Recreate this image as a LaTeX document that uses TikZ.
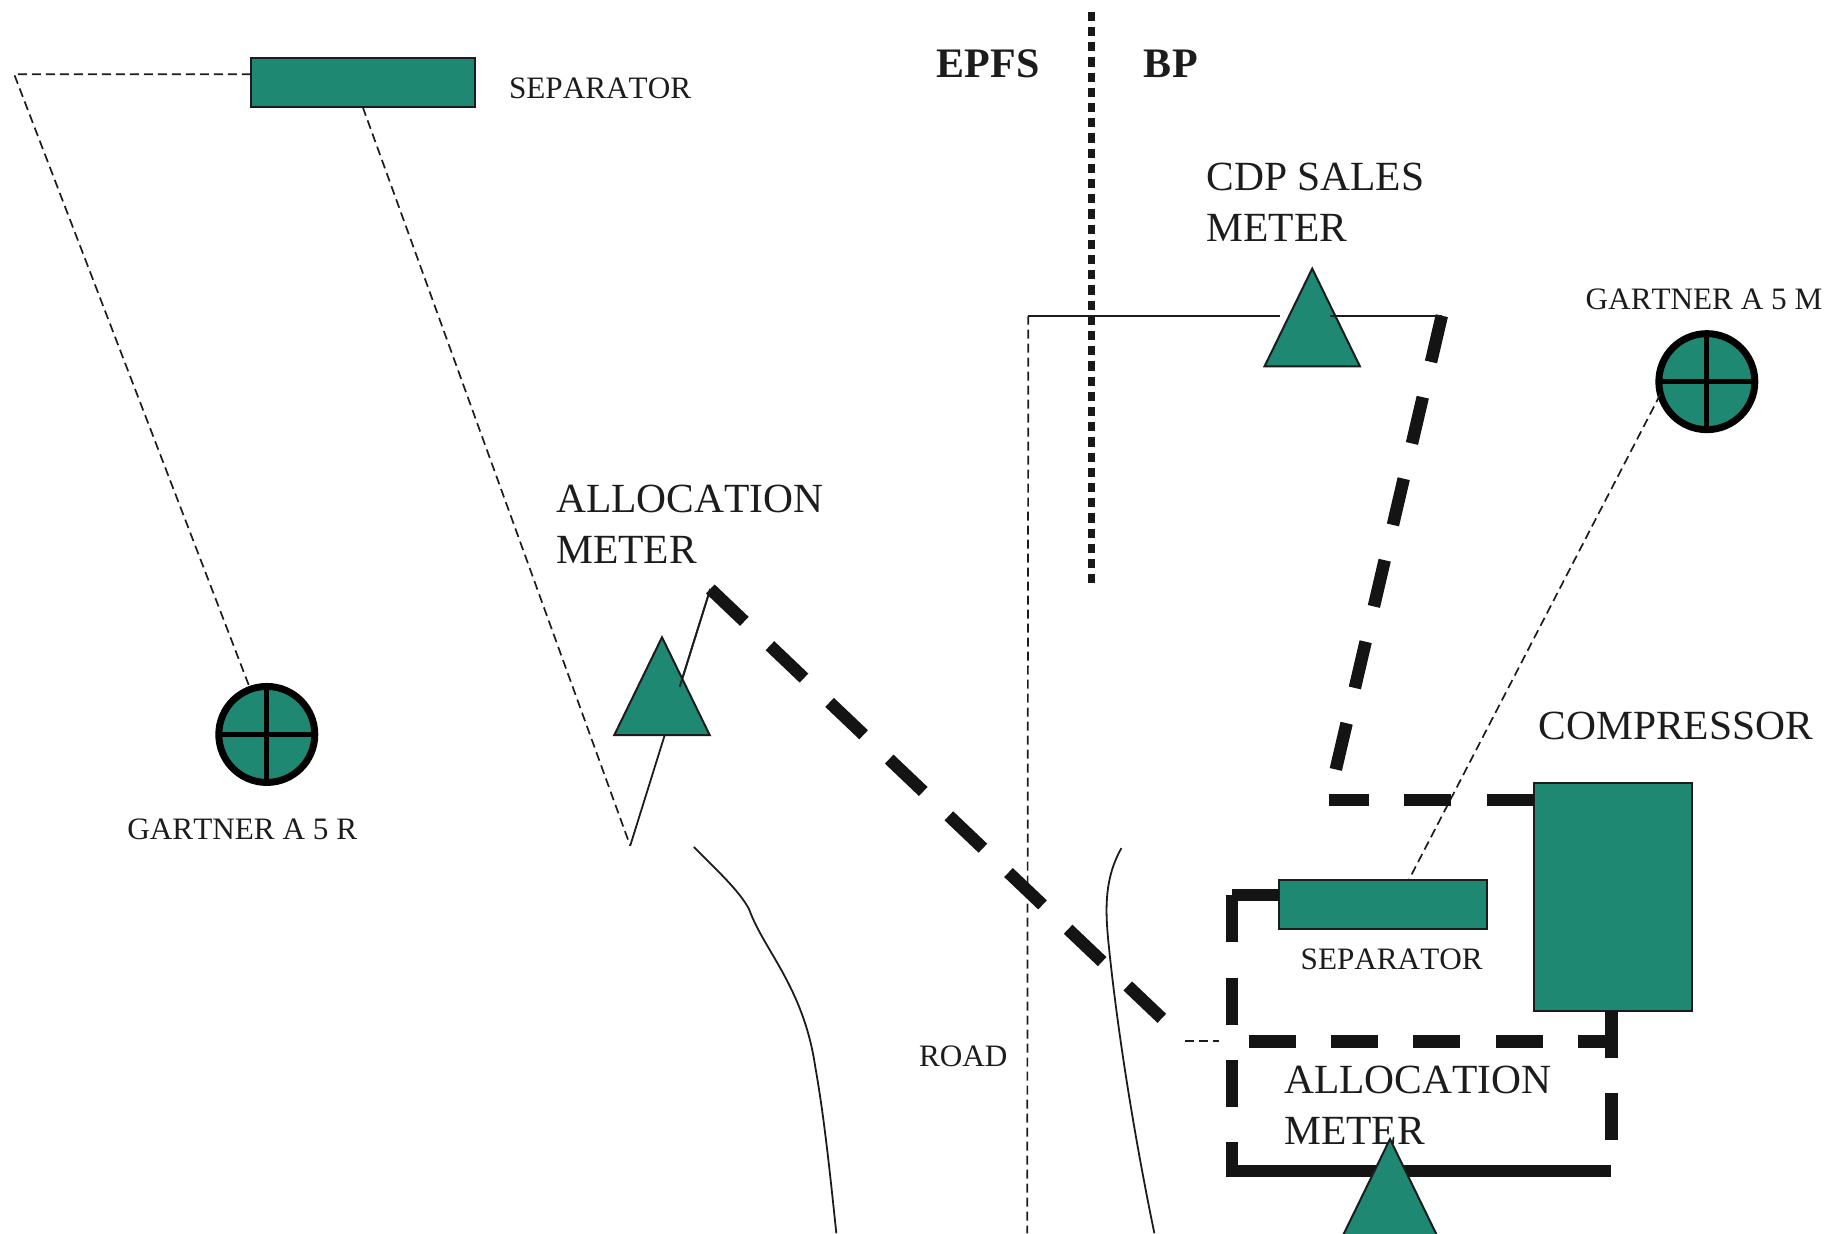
\documentclass[tikz,border=0pt]{standalone}
\usepackage{fontspec}
\setmainfont[Kerning=Off]{Liberation Serif}
\usetikzlibrary{shapes.geometric,calc}
\definecolor{teal1}{RGB}{30,136,114}
\definecolor{ink}{RGB}{28,28,28}
\tikzset{
  eq/.style={draw=ink,fill=teal1,line width=2pt,inner sep=0pt,outer sep=0pt},
  tri/.style={eq,isosceles triangle,isosceles triangle apex angle=52,shape border rotate=90,anchor=apex,minimum height=97.8pt,minimum width=95.4pt},
  well/.style={draw=black,fill=teal1,line width=7pt,circle,inner sep=0pt,outer sep=0pt,minimum size=96pt},
  wellcross/.style={draw=black,line width=5pt},
  thin/.style={draw=ink,line width=1.8pt},
  thindash/.style={draw=ink,line width=1.7pt,dash pattern=on 9pt off 5pt},
  heavy/.style={draw=black!92,line width=12.5pt,dash pattern=on 47pt off 35.3pt},
  heavyb/.style={draw=black!92,line width=12.5pt,dash pattern=on 47.5pt off 36.2pt},
  heavysolid/.style={draw=black!92,line width=12.5pt},
  boundary/.style={draw=black!90,line width=7pt,dash pattern=on 9.2pt off 6pt},
  lab/.style={text=ink,inner sep=0pt,anchor=base west,align=left},
  big/.style={lab,font=\fontsize{41.5}{51}\selectfont},
  small/.style={lab,font=\fontsize{31.2}{37}\selectfont},
  head/.style={lab,font=\fontsize{42}{50}\selectfont\bfseries}
}
\begin{document}
\begin{tikzpicture}[x=1.178pt,y=-1.178pt]
\useasboundingbox (0,0) rectangle (1568,1047);
% named points
\coordinate (a) at (12,63);
\coordinate (b) at (535,718);
\coordinate (c) at (603,500);
\coordinate (cin) at (577,583);
\coordinate (d) at (990,868);
\coordinate (e) at (873,268);
\coordinate (ee) at (872,1047);
\coordinate (f) at (1224,268);
\coordinate (g) at (1128,679);
\coordinate (gs) at (1133.6,655);
\coordinate (h) at (1046,760);
\coordinate (i) at (1046,994);
\coordinate (j) at (1368,994);
\coordinate (k) at (1060,884);
\coordinate (l) at (1368,884);
\coordinate (m) at (1006,884);
\coordinate (n) at (1035,884);
\coordinate (bt) at (927,10);
\coordinate (bb) at (927,495);
\coordinate (rla) at (589,719);
\coordinate (rlb) at (710,1047);
\coordinate (rra) at (952,720);
\coordinate (rrb) at (980,1047);
\coordinate (t2l) at (1087,268);
\coordinate (t2r) at (1129,268);
% boundary and road
\draw[boundary] (bt) -- (bb);
\draw[thin] (rla) .. controls (612,742) and (628,757) .. (636,772) .. controls (648,806) and (682,838) .. (692,905) .. controls (700,950) and (705,1000) .. (rlb);
\draw[thin] (rra) .. controls (938,745) and (938,770) .. (941,800) .. controls (948,870) and (962,960) .. (rrb);
% equipment
\node[eq,rectangle,minimum width=223.8pt,minimum height=49.5pt] (sep1) at (308,70) {};
\node[eq,rectangle,minimum width=157.9pt,minimum height=227.4pt] (comp) at (1369,761.5) {};
\node[eq,rectangle,minimum width=207.3pt,minimum height=49.5pt] (sep2) at (1174,768) {};
\node[well] (g5r) at (226.5,623.5) {};
\node[well] (g5m) at (1449,324) {};
\draw[wellcross] (g5r.north) -- (g5r.south);
\draw[wellcross] (g5r.west) -- (g5r.east);
\draw[wellcross] (g5m.north) -- (g5m.south);
\draw[wellcross] (g5m.west) -- (g5m.east);
% thin connectors
\draw[thindash] (sep1.west |- a) -- (a) -- (g5r.110);
\draw[thindash] (sep1.south) -- (b);
\draw[thin] (b) -- (c);
\draw[thindash] (e) -- (ee);
\draw[thin] (e) -- (t2l);
\draw[thindash] (g5m.195) -- ($(sep2.north)+(22,0)$);
\draw[thindash] (m) -- (n);
% heavy lines
\draw[heavy] (c) -- (d);
\draw[heavyb] (f) -- (gs);
\draw[heavy] (comp.west |- g) -- (g);
\draw[heavy] (h) -- (i);
\draw[heavysolid,line cap=square] (h) -- (h -| sep2.west);
\draw[heavy] (k) -- (l);
\draw[heavy] (comp.south -| j) -- (j);
\draw[heavysolid] ($(i)+(-5,0)$) -- (j);
% labels
\node[small] (l1) at (432,84) {SEPARATOR};
\node[head] (l2) at (795,66) {EPFS};
\node[head] (l3) at (971,66) {BP};
\node[big] (l4) at (1024,205) {CDP SALES\\METER};
\node[small] (l5) at (1346,263) {GARTNER A 5 M};
\node[big] (l6) at (472,478) {ALLOCATION\\METER};
\node[small] (l7) at (108,713) {GARTNER A 5 R};
\node[big] (l8) at (1306,628) {COMPRESSOR};
\node[small] (l9) at (1104,823) {SEPARATOR};
\node[small] (l10) at (780,905) {ROAD};
\node[big] (l11) at (1090,972) {ALLOCATION\\METER};
% meters
\node[tri] (t1) at (562,541) {};
\node[tri] (t2) at (1114,228) {};
\node[tri] (t3) at (1180,967) {};
\draw[thin] (cin) -- (c);
\draw[thin] (t2r) -- (f);
\end{tikzpicture}
\end{document}
